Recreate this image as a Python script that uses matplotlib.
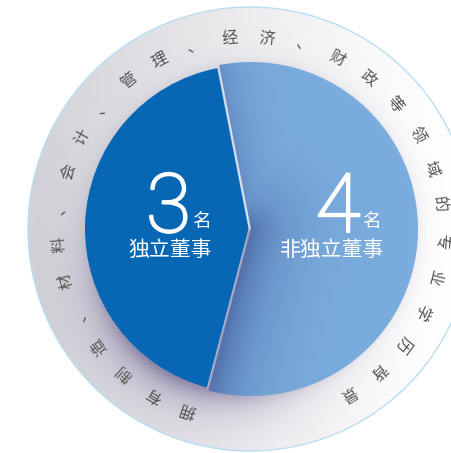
import numpy as np
import matplotlib
matplotlib.use("Agg")
import matplotlib.pyplot as plt
import matplotlib.patheffects as pe
from matplotlib.patches import Circle

plt.rcParams['font.family'] = ['Noto Sans CJK SC', 'DejaVu Sans']

# ---- data ----
categories = ["独立董事", "非独立董事"]
values = [3, 4]
unit = "名"
ring_text = "拥有制造、材料、会计、管理、经济、财政等领域的专业学历背景"
colors = ["#0767b5", "#7aacdd"]

W, H = 452, 453
fig = plt.figure(figsize=(W / 100, H / 100), dpi=100)
ax = fig.add_axes([0, 0, 1, 1])
ax.set_xlim(0, W)
ax.set_ylim(0, H)
ax.axis("off")

cx, cy = 250.0, 224.0      # ring centre
px, py = 251.0, 224.0      # pie centre
R_out = 222.0
R_pie = 167.0

# ---- ring background image ----
xs = np.arange(W) + 0.5
ys = np.arange(H) + 0.5
X, Y = np.meshgrid(xs, ys)
t = np.clip((cx + 210 - X) / 420.0, 0, 1) ** 1.3
base = np.array([1.0, 1.0, 1.0])
gray = np.array([210, 210, 216]) / 255.0
img = base[None, None, :] * (1 - t[..., None]) + gray[None, None, :] * t[..., None]

rp = np.hypot(X - px, Y - py)
phi = np.degrees(np.arctan2(Y - py, X - px)) % 360
d = np.clip(rp - R_pie, 0, None)
dang = (phi - 238 + 180) % 360 - 180
wang = np.exp(-(dang / 42.0) ** 2)
sh = 0.62 * np.exp(-d / 22.0) * wang + 0.10 * np.exp(-d / 8.0)
shc = np.array([112, 100, 145]) / 255.0
img = img * (1 - sh[..., None]) + shc[None, None, :] * sh[..., None]
im = ax.imshow(img, extent=(0, W, 0, H), origin="lower", zorder=1, interpolation="bilinear")
clip_c = Circle((cx, cy), R_out, transform=ax.transData)
im.set_clip_path(clip_c)
ax.add_patch(Circle((cx, cy), R_out, fill=False, edgecolor="#b8def3", lw=1.0, zorder=2))

# ---- pie ----
wedges, _ = ax.pie(values, colors=colors, startangle=101, counterclock=True,
                   center=(px, py), radius=R_pie,
                   wedgeprops=dict(linewidth=0))
ax.set_xlim(0, W)
ax.set_ylim(0, H)
ax.set_aspect("auto")
for w in wedges:
    w.set_zorder(3)
wedges[0].set_zorder(5)
wedges[0].set_radius(164)
wedges[0].set_center((px - 2, py))

a0 = wedges[0].theta1
a1 = wedges[0].theta2

def ray_dist(ang):
    ux, uy = np.cos(np.radians(ang)), np.sin(np.radians(ang))
    dx, dy = X - px, Y - py
    proj = dx * ux + dy * uy
    perp = np.abs(dx * uy - dy * ux)
    return np.where(proj > 0, perp, np.hypot(dx, dy))

d1 = ray_dist(a1)
d2 = ray_dist(a0)
s = np.maximum(0.62 * np.exp(-d1 / 32.0), 0.30 * np.exp(-d2 / 22.0))
simg = np.zeros((H, W, 4))
simg[..., :3] = np.array([55, 75, 140]) / 255.0
simg[..., 3] = s
im2 = ax.imshow(simg, extent=(0, W, 0, H), origin="lower", zorder=4, interpolation="bilinear")
im2.set_clip_path(wedges[1])

for ang in (a0, a1):
    ax.plot([px - 2, px - 2 + 164 * np.cos(np.radians(ang))],
            [py, py + 164 * np.sin(np.radians(ang))],
            color="white", lw=0.7, alpha=0.5, zorder=6)
ax.set_xlim(0, W)
ax.set_ylim(0, H)

# ---- centre labels ----
num_font = dict(family=["Roboto", "DejaVu Sans"], weight="light",
                path_effects=[pe.withStroke(linewidth=1.6, foreground="white")])
ax.text(168.5, H - 232, str(values[0]), color="white", fontsize=59, ha="center",
        va="baseline", zorder=10, **num_font)
ax.text(201.5, H - 221, unit, color="white", fontsize=13.5, ha="center", va="center", zorder=10)
ax.text(170.5, H - 249.5, categories[0], color="white", fontsize=15, ha="center", va="center", zorder=10)
ax.text(338, H - 232, str(values[1]), color="white", fontsize=59, ha="center",
        va="baseline", zorder=10, **num_font)
ax.text(371.5, H - 221, unit, color="white", fontsize=13.5, ha="center", va="center", zorder=10)
ax.text(332, H - 249.5, categories[1], color="white", fontsize=15, ha="center", va="center", zorder=10)

# ---- circular text ----
start, end = 251.0, -59.0
n = len(ring_text)
step = (start - end) / (n - 1)
r_txt = 191.0
for i, ch in enumerate(ring_text):
    ang = start - i * step
    x = cx + r_txt * np.cos(np.radians(ang))
    y = cy + r_txt * np.sin(np.radians(ang))
    ax.text(x, y, ch, rotation=ang - 90, rotation_mode="anchor", ha="center", va="center",
            fontsize=11.5, color="#555555", fontweight="light", zorder=10)

fig.savefig("out.png", dpi=100)
